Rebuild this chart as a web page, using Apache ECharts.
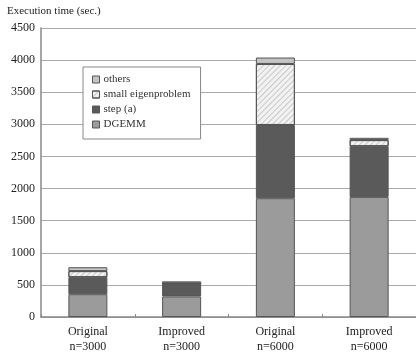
<!DOCTYPE html>
<html><head><meta charset="utf-8">
<script src="https://cdn.jsdelivr.net/npm/echarts@6/dist/echarts.min.js"></script>
<style>html,body{margin:0;padding:0;background:#fff}#c{width:416px;height:355px}</style>
</head><body><div id="c"></div>
<script>
var categories = ['Original\nn=3000', 'Improved\nn=3000', 'Original\nn=6000', 'Improved\nn=6000'];
var dgemm = [355, 320, 1850, 1870];
var stepA = [265, 205, 1140, 790];
var smallEigen = [95, 0, 950, 95];
var others = [60, 30, 100, 35];
var yTicks = [0, 500, 1000, 1500, 2000, 2500, 3000, 3500, 4000, 4500];

var serif = '"Liberation Serif","DejaVu Serif",serif';
var chart = echarts.init(document.getElementById('c'));
var border = {borderColor: '#555', borderWidth: 1};
chart.setOption({
  animation: false,
  backgroundColor: '#fff',
  title: {text: 'Execution time (sec.)', left: 2, top: 1,
    textStyle: {fontFamily: serif, fontSize: 11, fontWeight: 'normal', color: '#222'}},
  legend: {
    data: ['others', 'small eigenproblem', 'step (a)', 'DGEMM'],
    orient: 'vertical', left: 83, top: 67, icon: 'rect',
    padding: [7, 10, 9, 9], itemGap: 4,
    itemWidth: 7, itemHeight: 7,
    backgroundColor: '#fff', borderColor: '#888', borderWidth: 1,
    textStyle: {fontFamily: serif, fontSize: 11, color: '#333', padding: [0, 0, 0, -1]},
    itemStyle: {borderColor: '#555', borderWidth: 1}
  },
  grid: {left: 41, right: -3, top: 28, bottom: 38, containLabel: false},
  xAxis: {
    type: 'category', data: categories,
    axisLine: {lineStyle: {color: '#888', width: 1.5}},
    axisTick: {show: true, inside: true, length: 3, lineStyle: {color: '#888'}},
    axisLabel: {fontFamily: serif, fontSize: 12, color: '#222', margin: 7, lineHeight: 15}
  },
  yAxis: {
    type: 'value', min: yTicks[0], max: yTicks[yTicks.length - 1], interval: 500,
    axisLine: {show: true, lineStyle: {color: '#888', width: 1.5}},
    axisTick: {show: false},
    splitLine: {lineStyle: {color: '#aaa', width: 1.2}},
    axisLabel: {fontFamily: serif, fontSize: 12, color: '#222', margin: 6,
      formatter: function (v) { return String(v); }}
  },
  series: [
    {name: 'DGEMM', type: 'bar', stack: 't', data: dgemm, barWidth: 39,
     itemStyle: Object.assign({color: '#9b9b9b'}, border)},
    {name: 'step (a)', type: 'bar', stack: 't', data: stepA, barWidth: 39,
     itemStyle: Object.assign({color: '#5a5a5a'}, border)},
    {name: 'small eigenproblem', type: 'bar', stack: 't', data: smallEigen, barWidth: 39,
     itemStyle: Object.assign({color: '#f2f2f2',
       decal: {symbol: 'rect', color: 'rgba(150,150,150,0.45)', dashArrayX: [1, 0], dashArrayY: [1, 3], rotation: -Math.PI / 4}}, border)},
    {name: 'others', type: 'bar', stack: 't', data: others, barWidth: 39,
     itemStyle: Object.assign({color: '#c4c4c4'}, border)}
  ]
});
</script></body></html>
